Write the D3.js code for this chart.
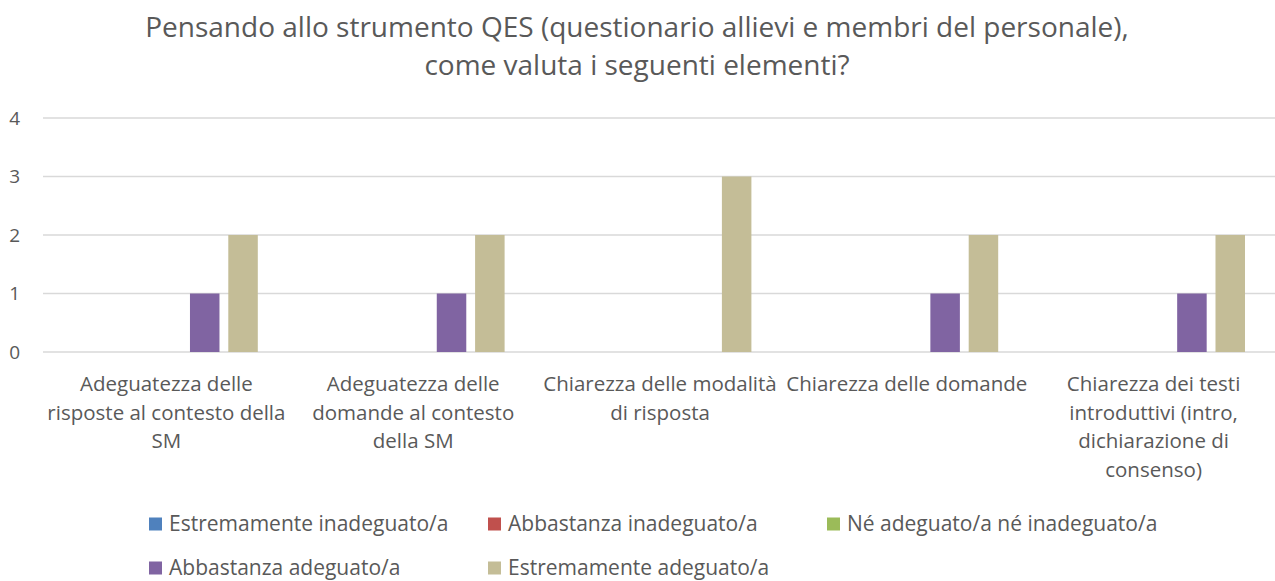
<!DOCTYPE html>
<html>
<head>
<meta charset="utf-8">
<script src="https://cdn.jsdelivr.net/npm/d3@7"></script>
<style>
  body { margin: 0; background: #fff; }
  text { font-family: "Open Sans", sans-serif; fill: #595959; }
</style>
</head>
<body>
<div id="chart"></div>
<script>

// chart data
var titleLines = [
	"Pensando allo strumento QES (questionario allievi e membri del personale),",
	"come valuta i seguenti elementi?"
];

var categories = [
	"Adeguatezza delle risposte al contesto della SM",
	"Adeguatezza delle domande al contesto della SM",
	"Chiarezza delle modalità di risposta",
	"Chiarezza delle domande",
	"Chiarezza dei testi introduttivi (intro, dichiarazione di consenso)"
];

// tick label lines as they are broken in the picture
var categoryLines = [
	["Adeguatezza delle", "risposte al contesto della", "SM"],
	["Adeguatezza delle", "domande al contesto", "della SM"],
	["Chiarezza delle modalità", "di risposta"],
	["Chiarezza delle domande"],
	["Chiarezza dei testi", "introduttivi (intro,", "dichiarazione di", "consenso)"]
];

var seriesNames = [
	"Estremamente inadeguato/a",
	"Abbastanza inadeguato/a",
	"Né adeguato/a né inadeguato/a",
	"Abbastanza adeguato/a",
	"Estremamente adeguato/a"
];

var seriesColors = [ "#4f81bd" , "#c0504d" , "#9bbb59" , "#8064a2" , "#c4bd97" ];

// one array per series, one value per category
var estInadeguato  = [ 0 , 0 , 0 , 0 , 0 ];
var abbInadeguato  = [ 0 , 0 , 0 , 0 , 0 ];
var neutro         = [ 0 , 0 , 0 , 0 , 0 ];
var abbAdeguato    = [ 1 , 1 , 0 , 1 , 1 ];
var estAdeguato    = [ 2 , 2 , 3 , 2 , 2 ];

var yTicks = [ 0 , 1 , 2 , 3 , 4 ];

//~~~~~~~~~~~~~~~~~~~~~~~~~~~~~~~~~~~~~~~~~~~~~~~~~~~~~~~~~~~~~~~~~~~~~~~
function main(){

	var width = 1275,
		height = 581;

	var seriesValues = [ estInadeguato , abbInadeguato , neutro , abbAdeguato , estAdeguato ];

	var svg = d3.select("#chart").append("svg")
		.attr("width" , width)
		.attr("height" , height);

	// scales
	var x0 = d3.scaleBand()
		.domain( categories )
		.range([ 43 , 1277 ]);

	var inner = 32;
	var x1 = d3.scaleBand()
		.domain( d3.range( seriesNames.length ) )
		.range([ inner , x0.bandwidth() - inner ])
		.paddingInner(0.23);

	var y = d3.scaleLinear()
		.domain([ 0 , 4 ])
		.range([ 352 , 118 ]);

	// title
	svg.selectAll(".title")
		.data( titleLines ).enter()
		.append("text")
		.attr("class" , "title")
		.attr("x" , 637)
		.attr("y" , (d , i) => 37 + i * 38)
		.attr("text-anchor" , "middle")
		.style("font-size" , "28px")
		.text(d => d);

	// gridlines
	svg.selectAll(".grid")
		.data( yTicks ).enter()
		.append("line")
		.attr("class" , "grid")
		.attr("x1" , 43)
		.attr("x2" , width)
		.attr("y1" , d => y(d))
		.attr("y2" , d => y(d))
		.attr("stroke" , "#d9d9d9")
		.attr("stroke-width" , 1.3);

	// y labels
	svg.selectAll(".ylab")
		.data( yTicks ).enter()
		.append("text")
		.attr("class" , "ylab")
		.attr("x" , 20)
		.attr("y" , d => y(d))
		.attr("dy" , "0.35em")
		.attr("text-anchor" , "end")
		.style("font-size" , "19px")
		.text(d => d);

	// bars, one series at a time, zero values are left out
	seriesValues.forEach( function( values , s ){
		var marks = values
			.map( (v , i) => ({ cat : categories[i] , value : v }) )
			.filter( d => d.value > 0 );

		svg.selectAll(".bar_" + s)
			.data( marks ).enter()
			.append("rect")
			.attr("class" , "bar_" + s)
			.attr("x" , d => x0( d.cat ) + x1(s))
			.attr("y" , d => y(d.value))
			.attr("width" , x1.bandwidth())
			.attr("height" , d => y(0) - y(d.value))
			.attr("fill" , seriesColors[s]);
	});

	// category labels
	categoryLines.forEach( function( lines , i ){
		var cx = x0( categories[i] ) + x0.bandwidth() / 2;
		svg.selectAll(".cat_" + i)
			.data( lines ).enter()
			.append("text")
			.attr("class" , "cat_" + i)
			.attr("x" , cx)
			.attr("y" , (d , j) => 391 + j * 28.7)
			.attr("text-anchor" , "middle")
			.style("font-size" , "20.5px")
			.text(d => d);
	});

	// legend
	var legendX = [ 149 , 488 , 827 ];
	var legend = svg.selectAll(".legend")
		.data( seriesNames ).enter()
		.append("g")
		.attr("class" , "legend")
		.attr("transform" , (d , i) => "translate(" + legendX[i % 3] + "," + (524 + Math.floor(i / 3) * 44) + ")");

	legend.append("rect")
		.attr("x" , 0)
		.attr("y" , -6.5)
		.attr("width" , 13)
		.attr("height" , 13)
		.attr("fill" , (d , i) => seriesColors[i]);

	legend.append("text")
		.attr("x" , 20)
		.attr("dy" , "0.35em")
		.style("font-size" , "21px")
		.text(d => d);
}

main();
</script>
</body>
</html>
